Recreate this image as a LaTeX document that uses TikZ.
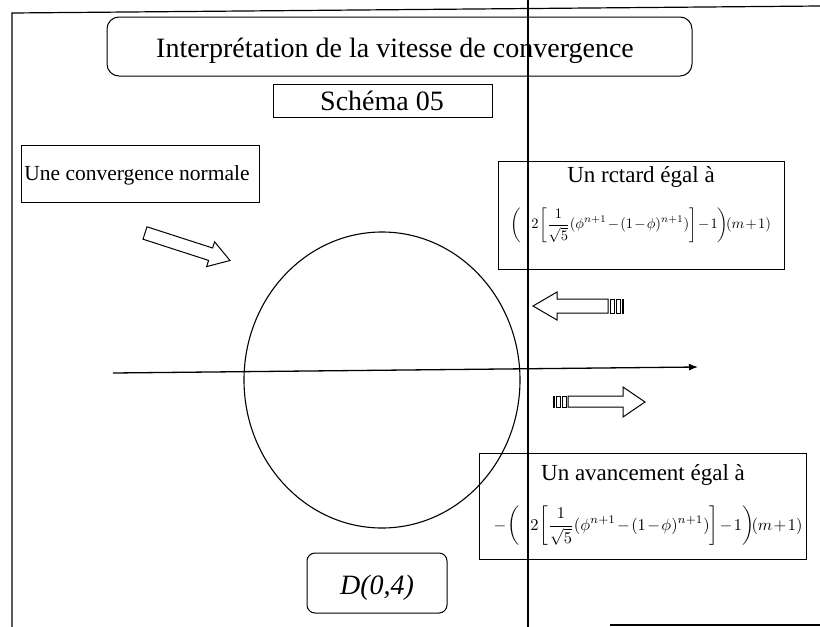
\documentclass[tikz,border=0pt]{standalone}
\usepackage{fontspec}
\setmainfont{Liberation Serif}
\usepackage{graphicx}
\usetikzlibrary{arrows.meta,shapes.geometric}
\newcommand{\fsz}[1]{\fontsize{#1}{#1}\selectfont}
\newcommand{\golden}{\medmuskip=1.5mu\thinmuskip=1mu\left(\mkern12mu 2\left[\frac{1}{\sqrt{5}}(\phi^{n+1}-(1-\phi)^{n+1})\right]-1\right)\mkern-4mu(m+1)}
\begin{document}
\begin{tikzpicture}[x=1pt,y=-1pt,
  frame/.style={line width=1.2pt},
  sqbox/.style={draw,line width=1pt,inner sep=0pt},
  rbox/.style={draw,line width=1pt,inner sep=0pt,rounded corners=#1},
  txt/.style={inner sep=0pt,anchor=base},
  blockarrow/.style={draw,line width=1pt,line join=miter,fill=white},
  stripe/.style={draw,line width=0.9pt}]
\useasboundingbox (0,0) rectangle (820,627);
% frame lines
\coordinate (fBL) at (12,627);
\coordinate (fTL) at (12,13);
\coordinate (fTR) at (820,6);
\draw[frame] (fBL) -- (fTL) -- (fTR);
\coordinate (vT) at (528,0);
\coordinate (vB) at (528,627);
\draw[frame] (vT) -- (vB);
\coordinate (bL) at (610,625);
\coordinate (bR) at (820,625);
\draw[frame] (bL) -- (bR);
% title
\node[rbox=12pt,minimum width=585pt,minimum height=59pt] (title) at (399.5,46.5) {};
\node[txt,font=\fsz{28}] (titletxt) at (395,57) {Interprétation de la vitesse de convergence};
\node[sqbox,minimum width=219pt,minimum height=33pt] (schema) at (382.5,100.5) {};
\node[txt,font=\fsz{28}] (schematxt) at (382,110) {Schéma 05};
% normal convergence
\node[sqbox,minimum width=238pt,minimum height=57pt] (normal) at (140,173.5) {};
\node[txt,font=\fsz{21.5}] (normaltxt) at (137,180) {Une convergence normale};
% retard box
\node[sqbox,minimum width=286pt,minimum height=108pt] (retard) at (641,215) {};
\node[txt,font=\fsz{23}] (retardtxt) at (641,182) {Un rctard égal à};
\node[inner sep=0pt] (retardf) at (641,225) {\resizebox{260pt}{!}{$\displaystyle\golden$}};
% avancement box
\node[sqbox,minimum width=327pt,minimum height=106pt] (avance) at (642.5,506) {};
\node[txt,font=\fsz{23}] (avancetxt) at (643,480) {Un avancement égal à};
\node[inner sep=0pt] (avancef) at (648,526) {\resizebox{309pt}{!}{$\displaystyle-\golden$}};
% D box
\node[rbox=8pt,minimum width=140pt,minimum height=60pt] (dbox) at (377,583) {};
\node[txt,font=\fsz{28}\itshape] (dtxt) at (377,594) {D(0,4)};
% circle
\node[draw,ellipse,line width=1.1pt,inner sep=0pt,minimum width=276pt,minimum height=296pt] (circ) at (382,380) {};
% axis
\coordinate (axL) at (113,373);
\coordinate (axR) at (698,367);
\draw[line width=1.3pt,-{Latex[length=9pt,width=7pt]}] (axL) -- (axR);
% diagonal block arrow
\draw[blockarrow] (143.0,239.2) -- (147.0,226.8) -- (212.6,248.0) -- (214.6,241.8) -- (230,260.5) -- (206.6,266.6) -- (208.6,260.4) -- cycle;
% left-pointing striped arrow
\draw[blockarrow] (533,306) -- (557,292) -- (557,299) -- (608,299) -- (608,313) -- (557,313) -- (557,320) -- cycle;
\draw[stripe] (610.5,299) rectangle (614.5,313);
\draw[stripe] (616.5,299) rectangle (620,313);
\draw[stripe,fill=black] (622,299) rectangle (623.5,313);
% right-pointing striped arrow
\draw[blockarrow] (645,402) -- (623,387) -- (623,396) -- (568,396) -- (568,407) -- (623,407) -- (623,417) -- cycle;
\draw[stripe,fill=black] (553,396) rectangle (554.5,407);
\draw[stripe] (556.5,396) rectangle (560.5,407);
\draw[stripe] (562.5,396) rectangle (566.5,407);
\end{tikzpicture}
\end{document}
